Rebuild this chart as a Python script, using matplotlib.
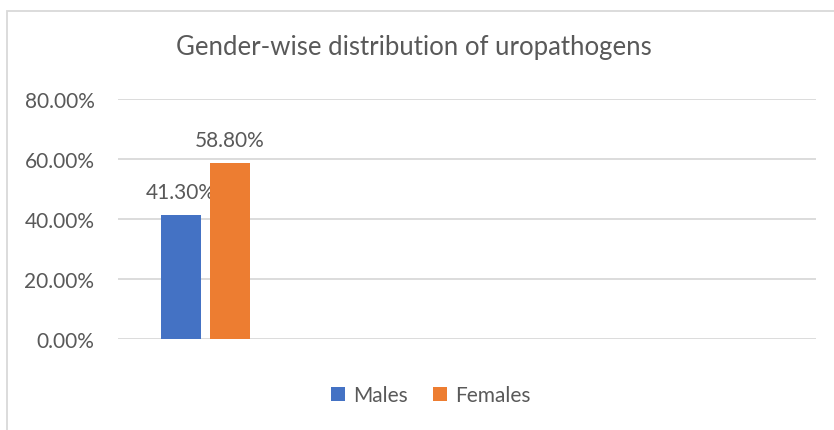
import matplotlib.pyplot as plt
import numpy as np
from matplotlib.patches import Rectangle

categories = ['', '', '', '']
series = ['Males', 'Females']
males = [0.413, np.nan, np.nan, np.nan]
females = [0.588, np.nan, np.nan, np.nan]
colors = ['#4472C4', '#ED7D31']
title = 'Gender-wise distribution of uropathogens'

plt.rcParams['font.family'] = ['Lato', 'DejaVu Sans']
text_color = '#595959'
grid_color = '#D9D9D9'

fig = plt.figure(figsize=(8.34, 4.31), dpi=100)

# chart border
fig.patches.append(Rectangle((6.5 / 834, -0.01), 1.0, 1 - 11.5 / 431 + 0.01,
                             transform=fig.transFigure, fill=False,
                             edgecolor=grid_color, linewidth=1.3))

ax = fig.add_axes([118 / 834, (431 - 340) / 431, 698 / 834, 240 / 431])

x = np.arange(len(categories))
w = 0.23
offsets = [-0.14, 0.14]
for vals, name, c, off in zip([males, females], series, colors, offsets):
    ax.bar(x + off, vals, width=w, color=c, label=name, zorder=3)
    for xi, v in zip(x + off, vals):
        if not np.isnan(v):
            ax.text(xi, v + 0.043, f'{v * 100:.2f}%', ha='center', va='bottom',
                    fontsize=15, color=text_color)

ax.set_xlim(-0.5, len(categories) - 0.5)
ax.set_ylim(0, 0.8)
ax.set_yticks(np.arange(0, 0.81, 0.2))
ax.set_yticklabels([f'{t * 100:.2f}%' for t in np.arange(0, 0.81, 0.2)])
ax.set_xticks([])
ax.tick_params(axis='y', length=0, pad=17, labelsize=15, labelcolor=text_color)
ax.grid(axis='y', color=grid_color, linewidth=1.3, zorder=0)
for s in ax.spines.values():
    s.set_visible(False)

fig.text(414 / 834, 1 - 48 / 431, title, ha='center', va='center',
         fontsize=18.5, color=text_color)

handles, labels = ax.get_legend_handles_labels()
fig.legend(handles, labels, loc='center', bbox_to_anchor=(431 / 834, 1 - 396 / 431),
           ncol=2, frameon=False, fontsize=15, labelcolor=text_color,
           handlelength=0.65, handleheight=0.65, handletextpad=0.4, columnspacing=1.2)

fig.savefig('out.png', dpi=100)
